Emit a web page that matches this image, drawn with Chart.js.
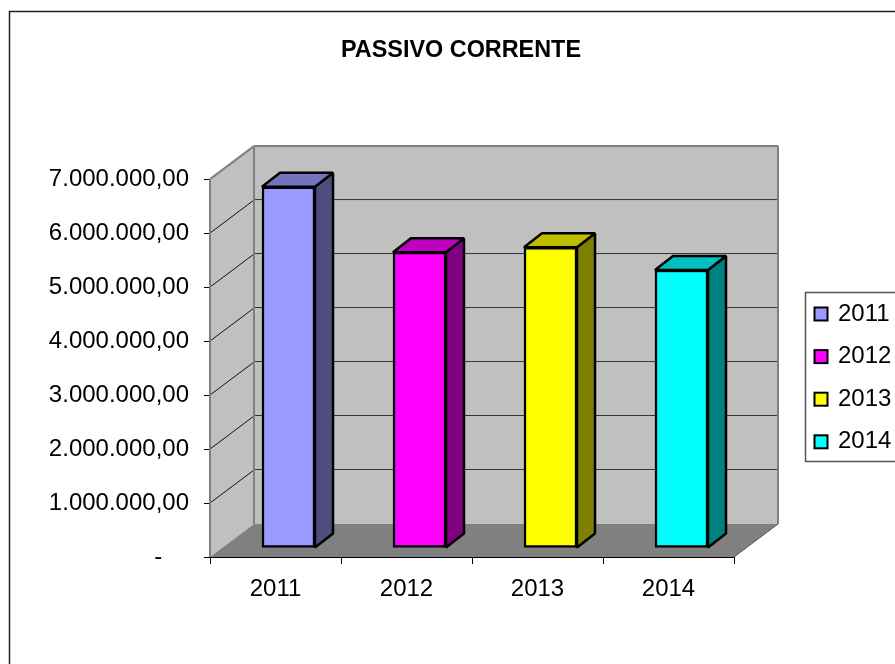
<!DOCTYPE html>
<html lang="en">

<head>
  <meta charset="UTF-8">
  <title>Passivo Corrente</title>
  <script src="https://cdn.jsdelivr.net/npm/chart.js"></script>
  <style>
    body { margin: 0; background: #fff; overflow: hidden; }
  </style>
</head>

<body>
  <canvas id="chart" width="895" height="664"></canvas>
  <script>
    const chartTitle = 'PASSIVO CORRENTE';
    const years = ['2011', '2012', '2013', '2014'];
    const values = [6690000, 5480000, 5570000, 5150000];
    const yMax = 7000000;
    const yStep = 1000000;

    const frontColors = ['#9999FF', '#FF00FF', '#FFFF00', '#00FFFF'];
    const topColors = ['#7373BF', '#BF00BF', '#BFBF00', '#00BFBF'];
    const sideColors = ['#4D4D80', '#800080', '#808000', '#008080'];

    const fontFamily = '"Liberation Sans", Arial, sans-serif';

    // 3D depth of the box and of the bars, in pixels
    const wallDx = 44, wallDy = 33;
    const barShiftX = 13, barShiftY = 9;
    const barDx = 18, barDy = 14;

    function line(ctx, x1, y1, x2, y2, color, width) {
      ctx.strokeStyle = color;
      ctx.lineWidth = width;
      ctx.beginPath();
      ctx.moveTo(x1, y1);
      ctx.lineTo(x2, y2);
      ctx.stroke();
    }

    function poly(ctx, pts, fill) {
      ctx.fillStyle = fill;
      ctx.beginPath();
      pts.forEach((p, i) => i ? ctx.lineTo(p[0], p[1]) : ctx.moveTo(p[0], p[1]));
      ctx.closePath();
      ctx.fill();
    }

    const boxPlugin = {
      id: 'box3d',
      beforeDraw(chart) {
        const ctx = chart.ctx;
        // title sits over the whole frame, not over the plot
        chart.titleBlock.left = 188;
        chart.titleBlock.right = 734;

        line(ctx, 9.5, 664, 9.5, 11, '#222', 1.5);
        line(ctx, 9, 11.5, 895, 11.5, '#222', 1.5);

        // legend
        ctx.save();
        ctx.strokeStyle = '#555';
        ctx.lineWidth = 1.5;
        ctx.strokeRect(805.5, 292.5, 100, 169);
        ctx.font = '24px ' + fontFamily;
        ctx.textBaseline = 'middle';
        years.forEach((y, i) => {
          const cy = 314 + i * 42.6;
          ctx.fillStyle = frontColors[i];
          ctx.fillRect(814.5, cy - 6.5, 13, 13);
          ctx.strokeStyle = '#000';
          ctx.lineWidth = 2;
          ctx.strokeRect(814.5, cy - 6.5, 13, 13);
          ctx.fillStyle = '#000';
          ctx.fillText(y, 838, cy);
        });
        ctx.restore();
      },
      beforeDatasetsDraw(chart) {
        const ctx = chart.ctx;
        const { left, right } = chart.chartArea;
        const yS = chart.scales.y;
        const top = yS.getPixelForValue(yMax), bottom = yS.getPixelForValue(0);

        ctx.save();
        poly(ctx, [[left, top], [left + wallDx, top - wallDy], [left + wallDx, bottom - wallDy], [left, bottom]], '#C0C0C0');
        poly(ctx, [[left + wallDx, top - wallDy], [right + wallDx, top - wallDy], [right + wallDx, bottom - wallDy], [left + wallDx, bottom - wallDy]], '#C0C0C0');
        poly(ctx, [[left, bottom], [left + wallDx, bottom - wallDy], [right + wallDx, bottom - wallDy], [right, bottom]], '#808080');

        for (let v = yStep; v < yMax; v += yStep) {
          const p = yS.getPixelForValue(v);
          line(ctx, left, p, left + wallDx, p - wallDy, '#111', 1);
          line(ctx, left + wallDx, p - wallDy - 0.5, right + wallDx, p - wallDy - 0.5, '#333', 1);
        }

        line(ctx, left, bottom, left, top, '#808080', 2);
        line(ctx, left, top, left + wallDx, top - wallDy, '#808080', 2);
        line(ctx, left + wallDx, top - wallDy, right + wallDx, top - wallDy, '#808080', 2);
        line(ctx, left + wallDx, top - wallDy, left + wallDx, bottom - wallDy, '#808080', 2);
        line(ctx, right + wallDx, top - wallDy, right + wallDx, bottom - wallDy, '#808080', 2);
        line(ctx, right, bottom, right + wallDx, bottom - wallDy, '#555', 1);
        line(ctx, left, bottom + 0.5, right, bottom + 0.5, '#000', 1);
        ctx.restore();
      },
      beforeDatasetDraw(chart) {
        chart.ctx.save();
        chart.ctx.translate(barShiftX, -barShiftY);
      },
      afterDatasetDraw(chart, args) {
        const ctx = chart.ctx;
        args.meta.data.forEach((bar, i) => {
          const { x, y, base, width } = bar.getProps(['x', 'y', 'base', 'width'], true);
          const l = x - width / 2, r = x + width / 2;
          const side = [[r, y], [r + barDx, y - barDy], [r + barDx, base - barDy], [r, base]];
          const roof = [[l, y], [l + barDx, y - barDy], [r + barDx, y - barDy], [r, y]];
          [[side, sideColors[i]], [roof, topColors[i]]].forEach(([pts, color]) => {
            poly(ctx, pts, color);
            ctx.strokeStyle = '#000';
            ctx.lineWidth = 2.5;
            ctx.lineJoin = 'bevel';
            ctx.stroke();
          });
        });
        ctx.restore();
      }
    };

    new Chart(document.getElementById('chart'), {
      type: 'bar',
      data: {
        labels: years,
        datasets: [{
          data: values,
          backgroundColor: frontColors,
          borderColor: '#000',
          borderWidth: 2.5,
          borderSkipped: false,
          barThickness: 53,
          clip: false
        }]
      },
      options: {
        responsive: false,
        animation: false,
        events: [],
        layout: { padding: { top: 0, right: 161, bottom: 0, left: 0 } },
        plugins: {
          legend: { display: false },
          tooltip: { enabled: false },
          title: {
            display: true,
            text: chartTitle,
            color: '#000',
            font: { family: fontFamily, size: 23.4, weight: 'bold', lineHeight: 1.2 },
            padding: { top: 37, bottom: 114 }
          }
        },
        scales: {
          x: {
            afterFit(scale) { scale.height = 107; },
            border: { display: false },
            grid: { drawOnChartArea: false, color: '#000', tickLength: 7, tickColor: '#000' },
            ticks: { color: '#000', font: { family: fontFamily, size: 24 }, padding: 11, maxRotation: 0 }
          },
          y: {
            min: 0,
            max: yMax,
            afterFit(scale) { scale.width = 210; },
            border: { display: false },
            grid: { drawOnChartArea: false, color: '#000', tickLength: 6, tickColor: '#000' },
            ticks: {
              stepSize: yStep,
              color: '#000',
              padding: 15,
              font: { family: fontFamily, size: 24 },
              callback: v => v === 0 ? '-    ' : v.toLocaleString('pt-BR', { minimumFractionDigits: 2 })
            }
          }
        }
      },
      plugins: [boxPlugin]
    });
  </script>

</body>

</html>
